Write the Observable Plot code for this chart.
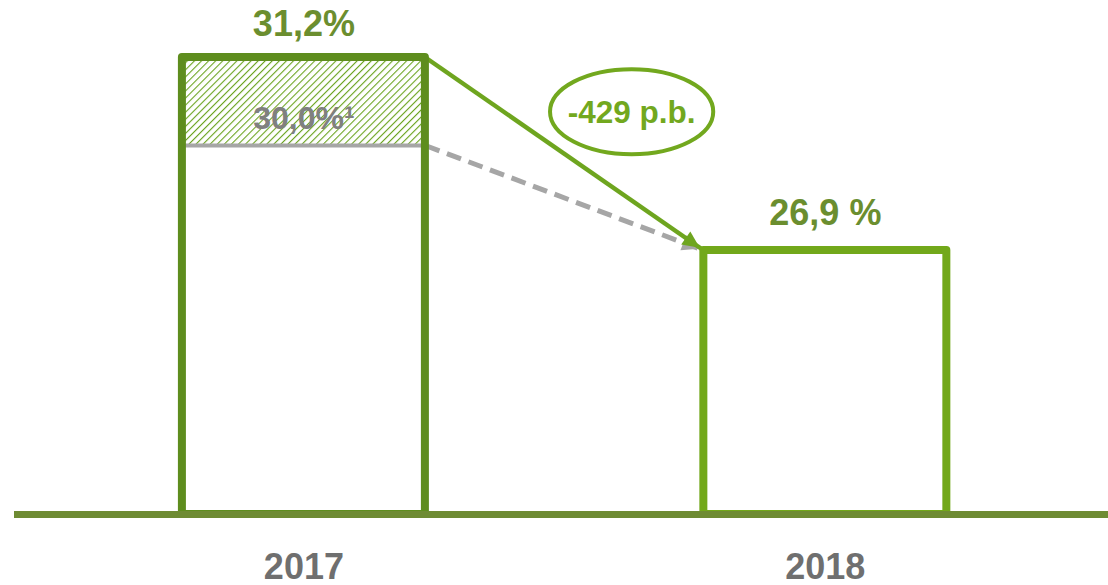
<!DOCTYPE html>
<html>
<head>
<meta charset="utf-8">
<script src="https://cdn.jsdelivr.net/npm/d3@7"></script>
<script src="https://cdn.jsdelivr.net/npm/@observablehq/plot@0.6"></script>
<style>
  html, body { margin: 0; padding: 0; background: #ffffff; }
  #chart { width: 1108px; height: 585px; }
</style>
</head>
<body>
<div id="chart"></div>
<script>
// ---- data ----
const years = [2017, 2018];
const values = [31.2, 26.9];
const valueLabels = ["31,2%", "26,9 %"];
const adjustedValue2017 = 30.0;
const adjustedLabel = "30,0%\u00B9";
const changeLabel = "-429 p.b.";
const yearLabels = ["2017", "2018"];
const baseValue = 21; // truncated axis base

const bars = years.map((year, i) => ({year, value: values[i], label: valueLabels[i]}));

// ---- styles ----
const halfWidth = 0.233;
const colBar2017 = "#5e8d1e";
const colBar2018 = "#72a81a";
const colArrow = "#6ea51f";
const colValueText = "#6b8e2f";
const colOval = "#72a81e";
const colBase = "#6e8b33";
const colGrayLine = "#a6a6a6";
const colGrayText = "#808080";
const colYear = "#6f6f6f";
const font = "'Liberation Sans', Arial, sans-serif";

function triangleHead(color) {
  const m = d3.create("svg:marker")
    .attr("viewBox", "-26 -10 28 20")
    .attr("markerUnits", "userSpaceOnUse")
    .attr("markerWidth", 28)
    .attr("markerHeight", 20)
    .attr("refX", 0)
    .attr("refY", 0)
    .attr("orient", "auto");
  m.append("path").attr("d", "M-22,-8L-5,0L-22,8Z").attr("fill", color).attr("stroke", "none");
  return m.node();
}

const ellipseSymbol = {
  draw(ctx, size) {
    const r = Math.sqrt(size / Math.PI);
    const rx = r * 1.92, ry = r, k = 0.5523;
    ctx.moveTo(rx, 0);
    ctx.bezierCurveTo(rx, ry * k, rx * k, ry, 0, ry);
    ctx.bezierCurveTo(-rx * k, ry, -rx, ry * k, -rx, 0);
    ctx.bezierCurveTo(-rx, -ry * k, -rx * k, -ry, 0, -ry);
    ctx.bezierCurveTo(rx * k, -ry, rx, -ry * k, rx, 0);
    ctx.closePath();
  }
};

const b17 = bars[0], b18 = bars[1];
const annot = [{x: (b17.year + b18.year) / 2, y: (b17.value + b18.value) / 2, label: changeLabel}];

const svg = Plot.plot({
  width: 1108,
  height: 585,
  marginLeft: 14,
  marginRight: 0,
  marginTop: 0,
  marginBottom: 71,
  style: {background: "#ffffff", fontFamily: font, overflow: "visible"},
  x: {type: "linear", domain: [2016.445, 2018.543], axis: null},
  y: {type: "linear", domain: [baseValue, b18.value, adjustedValue2017, b17.value], range: [514, 250, 145, 57], axis: null},
  marks: [
    // hatched restated portion
    Plot.rect([b17], {x1: d => d.year - halfWidth, x2: d => d.year + halfWidth, y1: adjustedValue2017, y2: d => d.value, fill: "url(#hatch)"}),
    // gray 30,0% level
    Plot.ruleY([adjustedValue2017], {x1: b17.year - halfWidth, x2: b17.year + halfWidth, stroke: colGrayLine, strokeWidth: 4}),
    // arrows
    Plot.link([0], {x1: b17.year + halfWidth, y1: adjustedValue2017, x2: b18.year - halfWidth, y2: b18.value,
      stroke: colGrayLine, strokeWidth: 5, strokeDasharray: "15,8", markerEnd: triangleHead}),
    Plot.link([0], {x1: b17.year + halfWidth, y1: b17.value, x2: b18.year - halfWidth, y2: b18.value,
      stroke: colArrow, strokeWidth: 4.5, markerEnd: triangleHead}),
    // bar outlines
    Plot.rect([b17], {x1: d => d.year - halfWidth, x2: d => d.year + halfWidth, y1: baseValue, y2: d => d.value,
      fill: "none", stroke: colBar2017, strokeWidth: 8, strokeLinejoin: "round"}),
    Plot.rect([b18], {x1: d => d.year - halfWidth, x2: d => d.year + halfWidth, y1: baseValue, y2: d => d.value,
      fill: "none", stroke: colBar2018, strokeWidth: 8, strokeLinejoin: "round"}),
    // baseline
    Plot.ruleY([baseValue], {stroke: colBase, strokeWidth: 7}),
    // value labels
    Plot.text([b17], {x: "year", y: "value", text: "label", dy: -33, fill: colValueText,
      fontSize: 36, fontWeight: "bold", fontFamily: font}),
    Plot.text([b18], {x: "year", y: "value", text: "label", dy: -37, fill: colValueText,
      fontSize: 36, fontWeight: "bold", fontFamily: font}),
    Plot.text([b17], {x: "year", y: adjustedValue2017, text: () => adjustedLabel, dy: -27, fill: colGrayText,
      fontSize: 32, fontWeight: "bold", fontFamily: font}),
    // change annotation
    Plot.dot(annot, {x: "x", y: "y", dx: 67, dy: -66, r: 42.5, symbol: ellipseSymbol,
      fill: "none", stroke: colOval, strokeWidth: 4}),
    Plot.text(annot, {x: "x", y: "y", text: "label", dx: 67, dy: -65, fill: colOval,
      fontSize: 31.5, fontWeight: "bold", fontFamily: font}),
    // year axis
    Plot.axisX(years, {tickSize: 0, tickPadding: 39, tickFormat: (d) => yearLabels[years.indexOf(d)],
      fill: colYear, fontSize: 36, fontWeight: "bold", fontFamily: font})
  ]
});

d3.select(svg).insert("defs", ":first-child").html(
  `<pattern id="hatch" patternUnits="userSpaceOnUse" width="5" height="5" patternTransform="rotate(45)">
     <rect width="5" height="5" fill="#ffffff"></rect>
     <line x1="0" y1="0" x2="0" y2="5" stroke="#6aa31e" stroke-width="2.2"></line>
   </pattern>`
);

document.getElementById("chart").appendChild(svg);
</script>
</body>
</html>
